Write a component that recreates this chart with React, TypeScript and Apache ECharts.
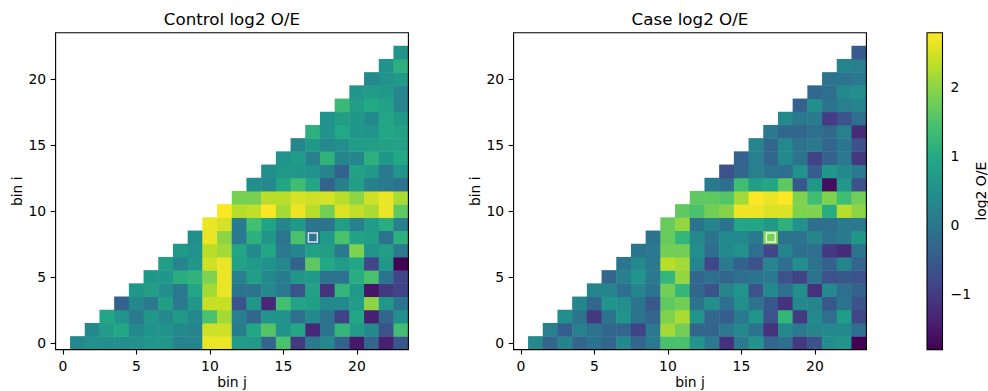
import React, { useEffect, useRef } from "react";
import * as echarts from "echarts";

const bins = ["0","1","2","3","4","5","6","7","8","9","10","11","12","13","14","15","16","17","18","19","20","21","22","23"];

// rows i = 0..22; each row holds values for j = i+1 .. 23
const controlRows: number[][] = [
  [0.35,0.5,0.45,0.45,0.5,0.6,0.6,0.25,0.25,2.65,2.65,0.7,0.65,-0.3,1.45,-1.05,0.05,0.35,-0.35,-1.5,-0.3,-1.4,-0.6],
  [0.35,0.7,0.9,0.35,0.5,0.5,0.35,0.25,2.45,2.45,0.1,0.9,1.55,0.5,0.9,-1.3,-0.05,1.2,0.7,0.35,-0.65,1.35],
  [0.9,0.55,0.05,0.6,0.35,0.65,0.35,1.45,2.15,0.15,-0.3,0.55,0.5,-0.15,0.35,-0.05,-0.9,0.9,-1.4,-0.3,0.45],
  [-0.35,0.35,0.05,0.75,0.05,0.6,2.4,2.4,-0.65,0.6,-1.3,1.4,0.85,0.75,0.35,0.35,0.7,2.0,0.6,-0.05],
  [0.6,0.75,0.45,0.05,0.9,2.15,2.65,-0.05,-0.05,0.35,0.05,-0.65,0.8,-1.15,1.2,0.65,-1.55,-1.05,-0.9],
  [0.6,0.6,1.05,1.15,1.9,2.65,0.15,0.75,0.35,0.1,0.6,0.65,-0.05,-0.05,1.05,1.45,-0.05,-0.85],
  [0.75,0.25,0.6,2.45,2.65,0.8,0.65,0.5,0.35,-0.35,1.65,0.95,0.7,0.9,-0.85,0.6,-1.8],
  [0.65,0.5,2.3,2.15,0.9,0.35,0.9,0.05,0.3,0.8,0.75,0.05,1.9,0.55,0.75,0.05],
  [0.45,2.65,2.0,0.05,1.1,0.6,0.0,1.45,0.0,0.65,1.45,0.8,0.75,-0.05,1.1],
  [2.65,2.5,0.1,1.4,0.85,0.25,0.65,-0.05,-0.05,0.75,0.15,0.7,1.05,0.15],
  [2.78,2.3,2.35,2.78,2.15,2.7,2.3,1.8,2.55,2.35,2.2,2.65,1.65],
  [1.85,1.85,2.3,2.3,2.5,2.45,2.5,2.3,2.0,2.45,2.65,2.2],
  [0.45,0.35,0.9,1.35,0.9,-0.35,0.2,0.75,0.15,0.05,-0.1],
  [0.45,0.65,0.6,0.5,0.25,-0.35,0.8,0.65,0.05,0.55],
  [0.55,0.7,0.2,1.15,0.25,0.3,1.1,0.6,0.95],
  [0.3,0.65,0.35,0.45,0.7,0.75,0.8,0.8],
  [1.1,0.5,0.95,0.6,0.55,0.9,0.8],
  [0.5,0.75,0.6,0.35,0.9,0.65],
  [1.3,0.75,0.95,0.8,0.25],
  [0.6,0.7,0.65,0.3],
  [0.35,0.5,0.65],
  [0.5,1.1],
  [0.5],
];

const caseRows: number[][] = [
  [0.35,-0.3,0.25,-0.3,-0.05,-0.3,0.35,-0.3,0.05,1.45,1.45,0.55,0.05,-1.15,0.05,0.55,-0.3,-0.15,-1.05,-0.65,0.45,0.55,-1.8],
  [0.15,-0.45,0.15,-0.05,-0.3,-0.3,-0.9,0.05,2.15,1.8,-0.3,-0.3,0.05,0.35,-0.05,-1.15,0.35,0.05,0.25,0.35,0.35,-0.15],
  [0.45,-0.05,-1.05,-0.05,0.55,-0.05,-0.3,1.9,2.2,0.55,-0.3,-0.45,0.05,0.55,-0.65,1.2,-1.05,0.35,-0.15,0.7,-0.85],
  [0.25,-0.3,0.55,0.45,-0.05,-0.55,1.65,1.8,-0.05,0.45,-0.15,0.45,-0.05,-0.55,-1.15,0.35,0.25,-0.55,-0.05,-0.65],
  [0.25,0.25,-0.15,0.25,-0.05,1.8,1.2,-0.3,-0.65,0.25,0.55,-0.65,0.35,-0.15,0.45,-1.15,0.35,-0.15,-0.35],
  [-0.3,0.15,0.55,0.05,1.2,2.05,-0.3,-0.15,-0.3,-0.15,-0.05,0.05,-0.65,-0.9,-0.05,-0.65,-0.55,-0.65],
  [0.0,0.35,0.05,2.3,2.15,0.25,-0.85,0.05,-0.35,-0.65,0.25,-0.15,0.45,-0.05,-0.35,0.25,-0.3],
  [-0.05,0.05,1.8,1.8,0.45,-0.15,0.35,0.5,-0.15,-0.85,0.25,-0.15,-0.15,-1.05,-1.25,-0.05],
  [-0.05,1.7,1.2,0.35,-0.05,0.35,0.35,0.05,1.85,-0.05,-0.05,0.25,-0.05,0.05,0.6],
  [1.7,2.05,-0.05,0.25,-0.05,0.9,0.9,0.65,1.1,0.5,-0.15,-0.15,0.05,0.05],
  [1.65,1.45,1.8,1.95,2.7,2.7,2.55,2.55,1.9,1.9,1.05,2.3,2.0],
  [1.65,1.65,1.55,2.15,2.78,2.65,2.78,1.9,1.35,1.9,1.35,1.8],
  [0.05,-0.15,1.35,0.75,0.9,1.65,-0.55,0.6,-1.65,0.6,-0.65],
  [-0.65,-0.3,0.15,-0.05,-0.15,0.5,-0.45,0.6,0.35,0.05],
  [-0.4,0.15,-0.3,0.35,-0.05,-0.9,-0.35,0.05,-1.05],
  [0.25,-0.3,0.35,-0.05,0.05,-0.3,0.0,-0.65],
  [0.05,-0.3,-0.3,-0.15,-0.25,0.2,-1.25],
  [0.35,0.05,0.05,-1.0,-0.65,-0.15],
  [-0.4,0.45,-0.05,0.15,0.25],
  [-0.25,-0.15,0.35,0.45],
  [-0.05,-0.05,0.05],
  [0.25,0.15],
  [-0.5],
];

const markedCell = [17, 8];
const colorTicks = [-1, 0, 1, 2];
const valueMin = -1.81;
const valueMax = 2.79;
const viridis = ["#440154","#482475","#414487","#355f8d","#2a788e","#21918c","#22a884","#44bf70","#7ad151","#bddf26","#fde725"];

const FONT = "DejaVu Sans";

function toCells(rows: number[][]) {
  const out: number[][] = [];
  rows.forEach((row, i) => row.forEach((v, k) => out.push([i + 1 + k, i, v])));
  return out;
}

const G = { top: 32.8, width: 352.8, height: 316.8 };
const lefts = [55.6, 513.6];
const cb = { left: 927, top: 32.8, width: 15.5, height: 316.8 };

export default function App() {
  const ref = useRef<HTMLDivElement>(null);
  useEffect(() => {
    if (!ref.current) return;
    const chart = echarts.init(ref.current, undefined, { renderer: "svg" });
    const every5 = (idx: number) => idx % 5 === 0;
    const catAxis = (gi: number, name: string, isX: boolean) => ({
      type: "category",
      gridIndex: gi,
      data: bins,
      boundaryGap: true,
      axisLine: { show: false },
      axisTick: { show: true, alignWithLabel: true, interval: every5, length: 4.9, lineStyle: { color: "#000", width: 1.1 } },
      axisLabel: { interval: every5, margin: 9.5, fontSize: 13.9, color: "#000", fontFamily: FONT },
      splitLine: { show: false },
      name,
      nameLocation: "middle",
      nameMoveOverlap: false,
      nameGap: isX ? 25.5 : 32,
      nameTextStyle: { fontSize: 13.9, lineHeight: 14, color: "#000", fontFamily: FONT },
    });
    const titles = ["Control log2 O/E", "Case log2 O/E"];
    const option: any = {
      animation: false,
      backgroundColor: "#fff",
      grid: [
        { left: lefts[0], top: G.top, width: G.width, height: G.height, outerBoundsMode: "none", containLabel: false },
        { left: lefts[1], top: G.top, width: G.width, height: G.height, outerBoundsMode: "none", containLabel: false },
        { left: cb.left, top: cb.top, width: cb.width, height: cb.height, outerBoundsMode: "none", containLabel: false },
      ],
      xAxis: [
        catAxis(0, "bin j", true),
        catAxis(1, "bin j", true),
        { type: "value", gridIndex: 2, show: false, min: 0, max: 1 },
      ],
      yAxis: [
        catAxis(0, "bin i", false),
        catAxis(1, "bin i", false),
        {
          type: "value",
          gridIndex: 2,
          position: "right",
          min: valueMin,
          max: valueMax,
          axisLine: { show: false },
          splitLine: { show: false },
          axisTick: { show: true, customValues: colorTicks, length: 4.9, lineStyle: { color: "#000", width: 1.1 } },
          axisLabel: {
            customValues: colorTicks,
            margin: 8,
            fontSize: 13.9,
            color: "#000",
            fontFamily: FONT,
            formatter: (v: number) => String(v).replace("-", "\u2212"),
          },
          name: "log2 O/E",
          nameLocation: "middle",
          nameRotate: 90,
          nameMoveOverlap: false,
          nameGap: 31,
          nameTextStyle: { fontSize: 13.9, lineHeight: 14, color: "#000", fontFamily: FONT },
        },
      ],
      visualMap: {
        type: "continuous",
        show: false,
        min: valueMin,
        max: valueMax,
        dimension: 2,
        seriesIndex: [0, 1],
        inRange: { color: viridis },
      },
      series: [
        { type: "heatmap", xAxisIndex: 0, yAxisIndex: 0, data: toCells(controlRows), itemStyle: { borderWidth: 0 }, emphasis: { disabled: true } },
        { type: "heatmap", xAxisIndex: 1, yAxisIndex: 1, data: toCells(caseRows), itemStyle: { borderWidth: 0 }, emphasis: { disabled: true } },
        { type: "scatter", xAxisIndex: 0, yAxisIndex: 0, data: [markedCell], symbol: "rect", symbolSize: 9, z: 10, itemStyle: { color: "rgba(0,0,0,0)", borderColor: "#fff", borderWidth: 1.5 } },
        { type: "scatter", xAxisIndex: 1, yAxisIndex: 1, data: [markedCell], symbol: "rect", symbolSize: 9, z: 10, itemStyle: { color: "rgba(0,0,0,0)", borderColor: "#fff", borderWidth: 1.5, opacity: 0.85 } },
      ],
      graphic: [
        ...lefts.map((l) => ({
          type: "rect", z: 100, silent: true,
          shape: { x: l, y: G.top, width: G.width, height: G.height },
          style: { fill: "none", stroke: "#000", lineWidth: 1.1 },
        })),
        {
          type: "rect", z: 99, silent: true,
          shape: { x: cb.left, y: cb.top, width: cb.width, height: cb.height },
          style: {
            fill: {
              type: "linear", x: 0, y: 1, x2: 0, y2: 0,
              colorStops: viridis.map((c, k) => ({ offset: k / (viridis.length - 1), color: c })),
            },
            stroke: "#000", lineWidth: 1.1,
          },
        },
        ...titles.map((t, k) => ({
          type: "text", z: 100, silent: true,
          x: lefts[k] + G.width / 2, y: 18.7,
          style: { text: t, fontSize: 16.7, fontFamily: FONT, fill: "#000", align: "center", verticalAlign: "middle" },
        })),
      ],
    };
    chart.setOption(option);
    return () => chart.dispose();
  }, []);
  return <div ref={ref} style={{ width: 988, height: 391, position: "absolute", left: 0, top: 0 }} />;
}
